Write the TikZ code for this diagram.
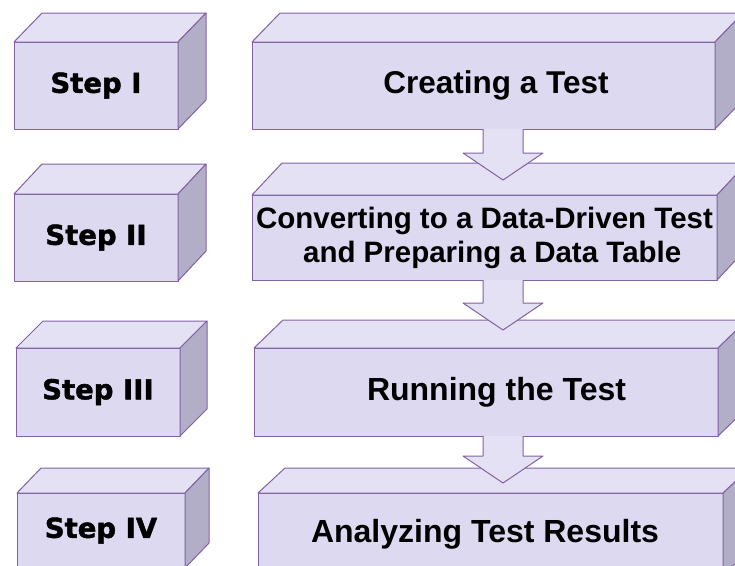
\documentclass[tikz,border=0pt]{standalone}
\usepackage{fontspec}
\usetikzlibrary{calc}
\newfontfamily\stepfont{DejaVu Sans}[BoldFeatures={FakeBold=1.6}]
\newfontfamily\boxfont{Liberation Sans}
\definecolor{frontc}{RGB}{221,217,240}
\definecolor{topc}{RGB}{228,225,245}
\definecolor{sidec}{RGB}{178,174,200}
\definecolor{edgec}{RGB}{130,98,162}
\tikzset{
  face/.style={draw=edgec, line width=1pt, line join=round},
  frontface/.style={face, fill=frontc, rectangle, inner sep=0pt, outer sep=0pt, anchor=north west},
  stepbox/.style={frontface, minimum width=164pt, font=\stepfont\bfseries\fontsize{27.5}{32}\selectfont},
  taskbox/.style={frontface, minimum width=464pt, font=\boxfont\bfseries\fontsize{31.5}{36}\selectfont},
  topface/.style={face, fill=topc},
  sideface/.style={face, fill=sidec},
  blockarrow/.style={face, fill=topc},
}
\newcommand\mycuboid[3]{%
  \filldraw[topface] (#1.north west) -- ++(#2,-#3) -- ($(#1.north east)+(#2,-#3)$) -- (#1.north east) -- cycle;
  \filldraw[sideface] (#1.north east) -- ($(#1.north east)+(#2,-#3)$) -- ($(#1.south east)+(#2,-#3)$) -- (#1.south east) -- cycle;
}
\newcommand\myblockarrow[4]{%
  \filldraw[blockarrow] let \p1=($(#1.south)+(#3,0)$), \p2=($(#2.north)+(#3,-#4)$) in
    (\x1-20pt,\y1) -- (\x1-20pt,\y2+27pt) -- (\x1-40pt,\y2+27pt) -- (\x1,\y2)
    -- (\x1+40pt,\y2+27pt) -- (\x1+20pt,\y2+27pt) -- (\x1+20pt,\y1);
}
\begin{document}
\begin{tikzpicture}[x=1pt,y=-1pt]
\useasboundingbox (0,0) rectangle (735,565);
\fill[white] (0,0) rectangle (735,565);
\clip (0,0) rectangle (735,565);
% step boxes
\node[stepbox, minimum height=87pt] (s1) at (14,42) {Step I};
\mycuboid{s1}{28}{29}
\node[stepbox, minimum height=87pt] (s2) at (14,194) {Step II};
\mycuboid{s2}{28}{30}
\node[stepbox, minimum height=88pt] (s3) at (16,348) {Step III};
\mycuboid{s3}{27}{27}
\node[stepbox, minimum width=168pt, minimum height=75pt] (s4) at (17,493) {Step IV};
\mycuboid{s4}{24}{25}
% task boxes
\node[taskbox, minimum width=463pt, minimum height=87pt] (m1) at (252,42) {\hspace*{25pt}Creating a Test};
\mycuboid{m1}{28}{29}
\node[taskbox, minimum width=465pt, minimum height=85pt, align=left,
      font=\boxfont\bfseries\fontsize{29.5}{34}\selectfont] (m2) at (252,195)
      {Converting to a Data-Driven Test\\\hspace*{47pt}and Preparing a Data Table};
\mycuboid{m2}{30}{32}
\node[taskbox, minimum width=464pt, minimum height=88pt,
      font=\boxfont\bfseries\fontsize{32}{36}\selectfont] (m3) at (254,348) {\hspace*{21pt}Running the Test};
\mycuboid{m3}{29}{28}
\node[taskbox, minimum width=465pt, minimum height=82pt,
      font=\boxfont\bfseries\fontsize{32}{36}\selectfont] (m4) at (258,493) {Analyzing Test Results\hspace*{11pt}};
\mycuboid{m4}{27}{25}
% arrows
\myblockarrow{m1}{m2}{19.5}{15}
\myblockarrow{m2}{m3}{18.5}{18}
\myblockarrow{m3}{m4}{17}{10}
\end{tikzpicture}
\end{document}
